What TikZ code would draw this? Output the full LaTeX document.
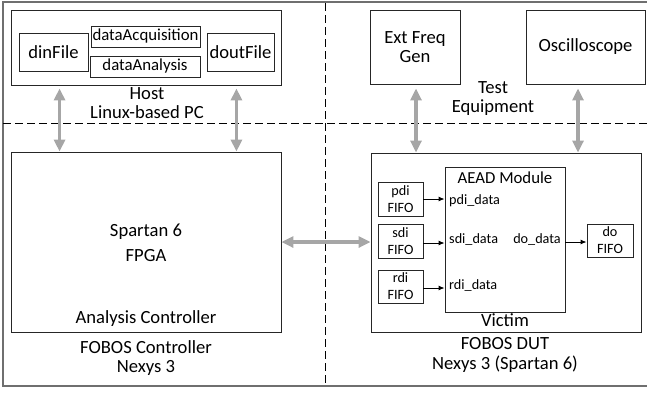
\documentclass[tikz,border=0pt]{standalone}
\usepackage{fontspec}
\setmainfont{Carlito}
\usetikzlibrary{arrows.meta}
\definecolor{arrgray}{HTML}{A6A6A6}
\definecolor{framegray}{HTML}{6F6F6F}
\tikzset{
  box/.style={draw=black!85, line width=0.9pt, inner sep=0pt, align=center},
  lbl/.style={inner sep=0pt, align=center},
  big/.style={font=\fontsize{18.6}{20}\selectfont},
  mid/.style={font=\fontsize{16.8}{19}\selectfont},
  small/.style={font=\fontsize{14.2}{17}\selectfont},
  bigarrow/.style={draw=arrgray, line width=3.5pt, {Triangle[length=12pt,width=11pt]}-{Triangle[length=12pt,width=11pt]}},
  smallarrow/.style={draw=black, line width=0.9pt, -{Latex[length=6pt,width=5pt]}},
  dashline/.style={draw=black, line width=0.9pt, dash pattern=on 8pt off 4pt},
}
\begin{document}
\begin{tikzpicture}[x=1pt,y=-1pt]
\useasboundingbox (0,0) rectangle (647,392);
% frame
\draw[framegray, line width=2pt] (647,2) -- (3,2) -- (3,386) -- (647,386);
% dashed separators
\draw[dashline] (325,3) -- (325,386);
\draw[dashline] (3,123) -- (647,123);
% Host
\node[box, minimum width=270pt, minimum height=75pt] (host) at (146,47.5) {};
\node[box, big, minimum width=69pt, minimum height=38pt] (din) at (53.5,52) {dinFile};
\node[box, mid, minimum width=109pt, minimum height=21pt] (acq) at (145.5,36.5) {dataAcquisition};
\node[box, mid, minimum width=110pt, minimum height=21pt] (ana) at (145,66.5) {dataAnalysis};
\node[box, big, minimum width=67pt, minimum height=38pt] (dout) at (240.5,52) {doutFile};
\node[lbl, big, anchor=base] (hostlbl) at (147,99.5) {Host};
\node[lbl, big, anchor=base] (pclbl) at (147,118) {Linux-based PC};
% Controller
\node[box, minimum width=270pt, minimum height=180pt] (spartan) at (146,242) {};
\node[lbl, big, anchor=base, font=\fontsize{18.6}{25}\selectfont] (fpga) at (146,261) {Spartan 6\\FPGA};
\node[lbl, big, anchor=base] (anc) at (146,323) {Analysis Controller};
\node[lbl, big, anchor=base, font=\fontsize{18.6}{19}\selectfont] (ctrl) at (146,372) {FOBOS Controller\\Nexys 3};
% Test equipment
\node[box, big, minimum width=90pt, minimum height=74pt, font=\fontsize{18.6}{19}\selectfont] (ext) at (415,47) {Ext Freq\\Gen};
\node[box, big, minimum width=119pt, minimum height=74pt] (osc) at (585.5,47) {Oscilloscope};
\node[lbl, big, anchor=base, font=\fontsize{18.6}{19}\selectfont] (teq) at (493,112) {Test\\Equipment};
% DUT
\node[box, minimum width=270pt, minimum height=179pt] (victim) at (506,242.5) {};
\node[box, minimum width=120pt, minimum height=145pt] (aead) at (505,239.5) {};
\node[lbl, mid, anchor=base] (aeadlbl) at (505,183) {AEAD Module};
\node[lbl, big, anchor=base] (viclbl) at (505,326) {Victim};
\node[box, small, minimum width=45pt, minimum height=34pt, font=\fontsize{14.2}{17}\selectfont] (pdi) at (400.5,199) {pdi\\FIFO};
\node[box, small, minimum width=45pt, minimum height=34pt, font=\fontsize{14.2}{17}\selectfont] (sdi) at (400.5,241) {sdi\\FIFO};
\node[box, small, minimum width=45pt, minimum height=33pt, font=\fontsize{14.2}{17}\selectfont] (rdi) at (400.5,286.5) {rdi\\FIFO};
\node[box, small, minimum width=46pt, minimum height=33pt, font=\fontsize{14.2}{17}\selectfont] (dof) at (610,240.5) {do\\FIFO};
\node[lbl, small, anchor=base west] (pdid) at (449,204) {pdi\_data};
\node[lbl, small, anchor=base west] (sdid) at (449,243.5) {sdi\_data};
\node[lbl, small, anchor=base west] (rdid) at (449,289.5) {rdi\_data};
\node[lbl, small, anchor=base east] (dod) at (561,243.5) {do\_data};
\node[lbl, big, anchor=base, font=\fontsize{18.6}{20}\selectfont] (dut) at (505,369) {FOBOS DUT\\Nexys 3 (Spartan 6)};
% small arrows
\draw[smallarrow] (pdi.east) -- (pdi.east -| aead.west);
\draw[smallarrow] ([yshift=-2pt]sdi.east) -- ([yshift=-2pt]sdi.east -| aead.west);
\draw[smallarrow] ([yshift=-1.5pt]rdi.east) -- ([yshift=-1.5pt]rdi.east -| aead.west);
\draw[smallarrow] ([yshift=-1.5pt]dof.west -| aead.east) -- ([yshift=-1.5pt]dof.west);
% big arrows
\draw[bigarrow, shorten <=3pt] ([xshift=49pt]host.south west) -- ([xshift=49pt]spartan.north west);
\draw[bigarrow, shorten <=3pt] ([xshift=-45pt]host.south east) -- ([xshift=-45pt]spartan.north east);
\draw[bigarrow, shorten <=4pt] ([xshift=1pt]ext.south) -- ([xshift=1pt]ext.south |- victim.north);
\draw[bigarrow, shorten <=4pt] ([xshift=-7.5pt]osc.south) -- ([xshift=-7.5pt]osc.south |- victim.north);
\draw[bigarrow] (spartan.east) -- (spartan.east -| victim.west);
\end{tikzpicture}
\end{document}
